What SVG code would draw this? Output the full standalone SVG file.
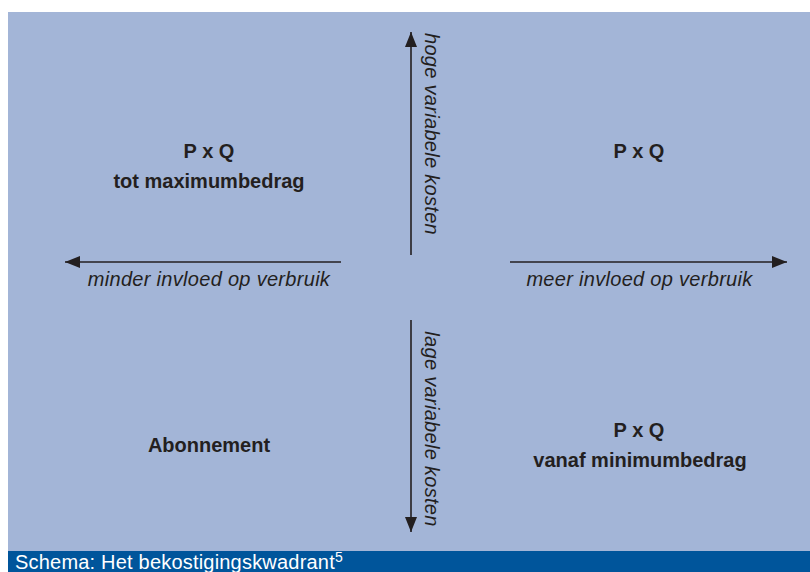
<svg xmlns="http://www.w3.org/2000/svg" width="810" height="572" viewBox="0 0 810 572">
<style>
.bold{font-family:"Liberation Sans",Arial,sans-serif;font-weight:bold;font-size:20px;fill:#231f20;text-anchor:middle}
.ital{font-family:"Liberation Sans",Arial,sans-serif;font-style:italic;font-size:20px;fill:#231f20;text-anchor:middle;letter-spacing:0.3px}
.axis{stroke:#231f20;stroke-width:1.6;fill:none}
</style>
<defs>
<marker id="ah" viewBox="0 0 15 12" refX="15" refY="6" markerWidth="15" markerHeight="12" markerUnits="userSpaceOnUse" orient="auto">
<path d="M0,0 L15,6 L0,12 Z" fill="#231f20"/>
</marker>
</defs>
<rect x="0" y="0" width="810" height="572" fill="#ffffff"/>
<rect x="8" y="12" width="802" height="539" fill="#a3b5d7"/>
<rect x="8" y="551" width="802" height="21" fill="#00559b"/>
<text x="15" y="569" font-family="'Liberation Sans',Arial,sans-serif" font-size="20" fill="#ffffff" letter-spacing="0.2">Schema: Het bekostigingskwadrant<tspan font-size="14" dy="-7">5</tspan></text>
<g id="connectors">
<line class="axis" x1="411" y1="255" x2="411" y2="32" marker-end="url(#ah)"/>
<line class="axis" x1="411" y1="320" x2="411" y2="532" marker-end="url(#ah)"/>
<line class="axis" x1="341" y1="262" x2="65" y2="262" marker-end="url(#ah)"/>
<line class="axis" x1="510" y1="262" x2="787" y2="262" marker-end="url(#ah)"/>
</g>
<g id="label-hoge">
<text class="ital" transform="translate(425,134) rotate(90)">hoge variabele kosten</text>
</g>
<g id="label-lage">
<text class="ital" transform="translate(425,429) rotate(90)">lage variabele kosten</text>
</g>
<g id="label-minder">
<text class="ital" x="209" y="286">minder invloed op verbruik</text>
</g>
<g id="label-meer">
<text class="ital" x="639.5" y="286">meer invloed op verbruik</text>
</g>
<g id="q-topleft">
<text class="bold" x="209" y="158">P x Q</text>
<text class="bold" x="209" y="188">tot maximumbedrag</text>
</g>
<g id="q-topright">
<text class="bold" x="639" y="158">P x Q</text>
</g>
<g id="q-bottomleft">
<text class="bold" x="209" y="452">Abonnement</text>
</g>
<g id="q-bottomright">
<text class="bold" x="639" y="437">P x Q</text>
<text class="bold" x="640" y="467">vanaf minimumbedrag</text>
</g>
</svg>
